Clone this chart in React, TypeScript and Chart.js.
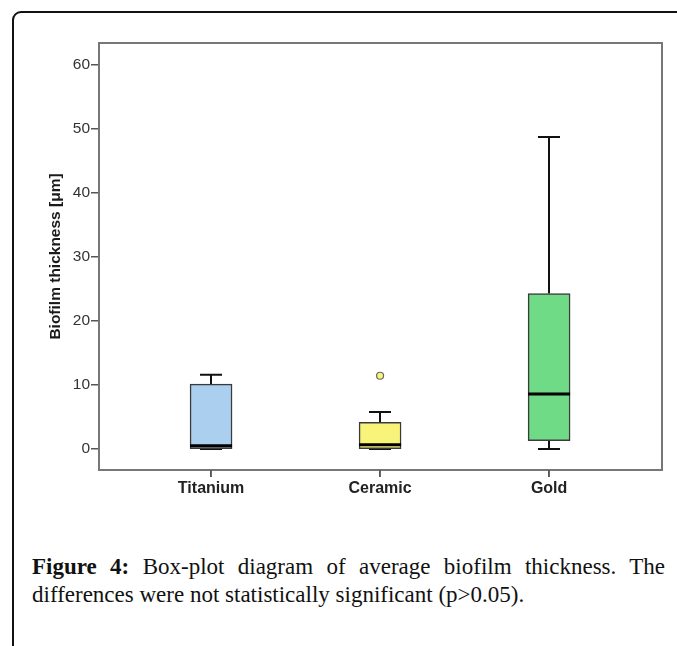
import React, { useEffect, useRef } from "react";
import { Chart, registerables } from "chart.js";

Chart.register(...registerables);

const categories = ["Titanium", "Ceramic", "Gold"];
const whiskerLow = [0, 0, 0];
const q1 = [0.05, 0.05, 1.3];
const median = [0.5, 0.65, 8.6];
const q3 = [10.15, 4.17, 24.3];
const whiskerHigh = [11.6, 5.8, 48.75];
const outlierCategory = [1];
const outlierValue = [11.45];
const yTicks = [0, 10, 20, 30, 40, 50, 60];
const boxColors = ["#abcfee", "#f8f47a", "#6fdb86"];

const boxPlugin = {
  id: "boxExtras",
  beforeDatasetsDraw(chart: any) {
    const ctx = chart.ctx;
    const xs = chart.scales.x;
    const ys = chart.scales.y;
    ctx.save();
    ctx.strokeStyle = "#111";
    ctx.lineWidth = 2;
    const capHalf = 11;
    categories.forEach((_, i) => {
      const cx = Math.round(xs.getPixelForValue(i));
      const yHi = ys.getPixelForValue(whiskerHigh[i]);
      const yQ3 = ys.getPixelForValue(q3[i]);
      const yLo = ys.getPixelForValue(whiskerLow[i]);
      const yQ1 = ys.getPixelForValue(q1[i]);
      ctx.beginPath();
      ctx.moveTo(cx, yQ3);
      ctx.lineTo(cx, yHi);
      ctx.moveTo(cx - capHalf, yHi);
      ctx.lineTo(cx + capHalf, yHi);
      ctx.moveTo(cx, yQ1);
      ctx.lineTo(cx, yLo);
      ctx.moveTo(cx - capHalf, yLo);
      ctx.lineTo(cx + capHalf, yLo);
      ctx.stroke();
    });
    ctx.restore();
  },
  afterDatasetsDraw(chart: any) {
    const ctx = chart.ctx;
    const ys = chart.scales.y;
    const meta = chart.getDatasetMeta(0);
    ctx.save();
    ctx.strokeStyle = "#000";
    ctx.lineWidth = 3;
    meta.data.forEach((el: any, i: number) => {
      const ym = ys.getPixelForValue(median[i]);
      ctx.beginPath();
      ctx.moveTo(el.x - el.width / 2, ym);
      ctx.lineTo(el.x + el.width / 2, ym);
      ctx.stroke();
    });
    ctx.restore();
  },
  afterDraw(chart: any) {
    const ctx = chart.ctx;
    const a = chart.chartArea;
    const xs = chart.scales.x;
    ctx.save();
    ctx.strokeStyle = "#777";
    ctx.lineWidth = 2;
    ctx.strokeRect(a.left, a.top, a.right - a.left, a.bottom - a.top);
    ctx.strokeStyle = "#555";
    ctx.lineWidth = 1.5;
    ctx.beginPath();
    categories.forEach((_, i) => {
      const px = Math.round(xs.getPixelForValue(i));
      ctx.moveTo(px, a.bottom);
      ctx.lineTo(px, a.bottom + 7);
    });
    ctx.stroke();
    ctx.restore();
  },
};

export default function App() {
  const ref = useRef<HTMLCanvasElement | null>(null);

  useEffect(() => {
    if (!ref.current) return;
    const chart = new Chart(ref.current, {
      type: "bar",
      data: {
        datasets: [
          {
            type: "bar",
            data: categories.map((_, i) => ({ x: i, y: [q1[i], q3[i]] })) as any,
            backgroundColor: boxColors,
            borderColor: "#3a3a3a",
            borderWidth: 1.5,
            borderSkipped: false,
            barThickness: 42,
            grouped: false,
          } as any,
          {
            type: "scatter",
            data: outlierCategory.map((c, i) => ({ x: c, y: outlierValue[i] })),
            pointRadius: 3.5,
            backgroundColor: "#f8f47a",
            borderColor: "#666",
            borderWidth: 1.2,
          } as any,
        ],
      },
      options: {
        responsive: false,
        animation: false,
        devicePixelRatio: 1,
        layout: { padding: { top: 43, right: 15, left: 0, bottom: 10 } },
        plugins: { legend: { display: false }, tooltip: { enabled: false } },
        scales: {
          x: {
            type: "linear",
            offset: false,
            min: -0.663,
            max: 2.668,
            afterBuildTicks: (s: any) => {
              s.ticks = categories.map((_, i) => ({ value: i }));
            },
            afterFit: (s: any) => {
              s.height = 30;
            },
            ticks: {
              callback: (v: any) => categories[v as number] ?? "",
              font: { family: "Liberation Sans", size: 16, weight: "bold" },
              color: "#222",
              padding: 2,
              maxRotation: 0,
              autoSkip: false,
            },
            grid: {
              offset: false,
              drawOnChartArea: false,
              drawTicks: true,
              tickLength: 7,
              color: "#555",
              lineWidth: 1.5,
            },
            border: { display: false },
          },
          y: {
            type: "linear",
            min: -3.28,
            max: 63.44,
            afterBuildTicks: (s: any) => {
              s.ticks = yTicks.map((v) => ({ value: v }));
            },
            afterFit: (s: any) => {
              s.width = 99;
            },
            ticks: {
              font: { family: "Liberation Sans", size: 15.5 },
              color: "#333",
              padding: 1,
            },
            grid: {
              drawOnChartArea: false,
              drawTicks: true,
              tickLength: 8,
              color: "#555",
              lineWidth: 1.5,
            },
            border: { display: false },
            title: {
              display: true,
              text: "Biofilm thickness [μm]",
              font: { family: "Liberation Sans", size: 15.5, weight: "bold" },
              color: "#1a1a1a",
              padding: { top: 46.5, bottom: 0 },
            },
          },
        },
      },
      plugins: [boxPlugin],
    } as any);
    return () => chart.destroy();
  }, []);

  return (
    <div
      style={{
        position: "fixed",
        left: 0,
        top: 0,
        width: 677,
        height: 646,
        overflow: "hidden",
        background: "#fff",
      }}
    >
      <div
        style={{
          position: "absolute",
          left: 12,
          top: 11,
          width: 720,
          height: 720,
          border: "2px solid #111",
          borderRadius: 9,
        }}
      />
      <canvas
        ref={ref}
        width={677}
        height={510}
        style={{ position: "absolute", left: 0, top: 0, width: 677, height: 510 }}
      />
      <div
        style={{
          position: "absolute",
          left: 32,
          top: 553,
          width: 633,
          fontFamily: "'Liberation Serif', serif",
          fontSize: 23,
          lineHeight: "28px",
          color: "#111",
        }}
      >
        <div style={{ textAlign: "justify", textAlignLast: "justify" as any, whiteSpace: "nowrap" as any }}>
          <b>Figure 4:</b> Box-plot diagram of average biofilm thickness. The
        </div>
        <div>differences were not statistically significant (p&gt;0.05).</div>
      </div>
    </div>
  );
}
